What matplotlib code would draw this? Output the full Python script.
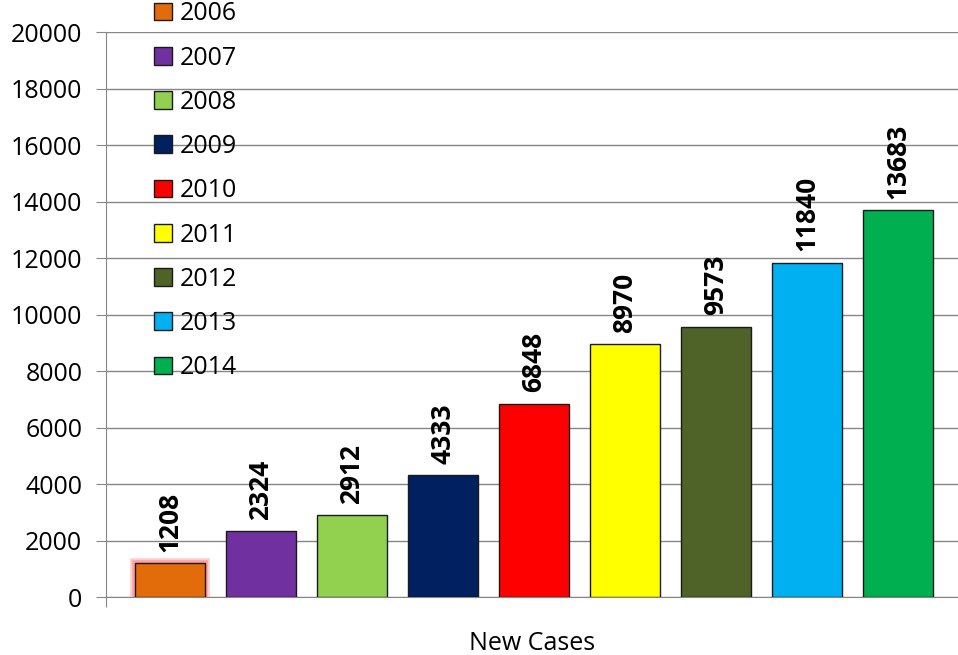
import matplotlib
matplotlib.use("Agg")
import matplotlib.pyplot as plt
import matplotlib.patheffects as pe
from matplotlib.patches import Patch

plt.rcParams['font.family'] = ['Open Sans', 'DejaVu Sans']

years = ['2006', '2007', '2008', '2009', '2010', '2011', '2012', '2013', '2014']
cases = [1208, 2324, 2912, 4333, 6848, 8970, 9573, 11840, 13683]
colors = ['#E36C0A', '#7030A0', '#92D050', '#002060', '#FF0000',
          '#FFFF00', '#4F6228', '#00B0F0', '#00B050']

fig = plt.figure(figsize=(9.58, 6.55), dpi=100)
ax = fig.add_axes([0.1106, 0.0885, 0.889, 0.8626])

xs = list(range(len(years)))
bars = ax.bar(xs, cases, width=0.77, color=colors, edgecolor='#1a1a1a',
              linewidth=1.0, zorder=3)
# soft red glow round the first bar
bars[0].set_path_effects([pe.Stroke(linewidth=7, foreground='#ffb0b0', alpha=0.6),
                          pe.Stroke(linewidth=4, foreground='#ff8080', alpha=0.6),
                          pe.Normal()])

for x, v in zip(xs, cases):
    ax.annotate(str(v), (x, v), xytext=(0, 8), textcoords='offset points',
                rotation=90, ha='center', va='bottom', fontsize=19,
                fontweight='bold', color='black')

ax.set_ylim(0, 20000)
ax.set_xlim(-0.70, 8.66)
ax.set_yticks(range(0, 20001, 2000))
ax.tick_params(axis='y', labelsize=18, length=7, color='#868686', pad=10)
ax.set_xticks([-0.70])
ax.set_xticklabels([''])
ax.tick_params(axis='x', length=7, color='#868686')
ax.yaxis.grid(True, color='#868686', linewidth=1.0, zorder=0)
for s in ['top', 'right']:
    ax.spines[s].set_visible(False)
ax.spines['left'].set_color('#868686')
ax.spines['bottom'].set_color('#868686')
ax.set_xlabel('New Cases', fontsize=18, labelpad=14)

handles = [Patch(facecolor=c, edgecolor='#1a1a1a', linewidth=1.0) for c in colors]
fig.legend(handles, years, loc='upper left', bbox_to_anchor=(0.161, 0.998),
           frameon=False, fontsize=18, handlelength=0.72, handleheight=0.72,
           handletextpad=0.3, labelspacing=0.77, borderpad=0, borderaxespad=0)

fig.savefig('out.png', dpi=100)
